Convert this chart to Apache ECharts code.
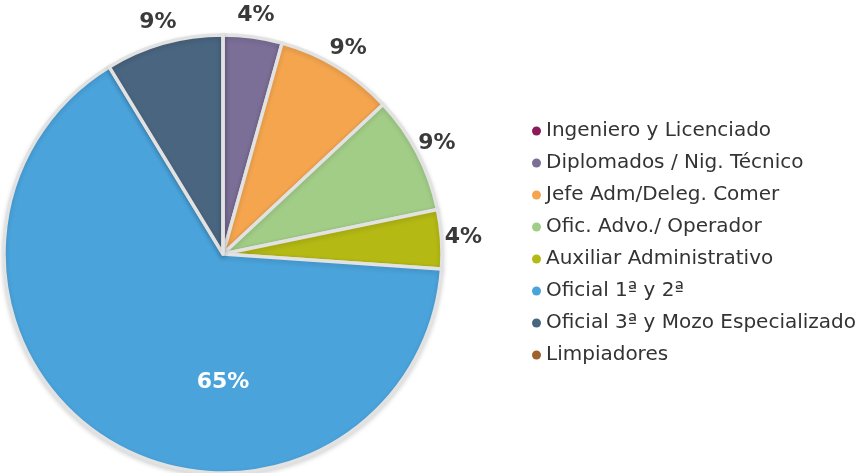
<!DOCTYPE html>
<html>
<head>
<meta charset="utf-8">
<script src="https://cdn.jsdelivr.net/npm/echarts@6/dist/echarts.min.js"></script>
<style>
  html, body { margin: 0; padding: 0; background: #fff; }
  #chart { width: 866px; height: 473px; }
</style>
</head>
<body>
<div id="chart"></div>
<script>
// categorias y valores (personas por categoria)
var categories = ['Ingeniero y Licenciado', 'Diplomados / Nig. Técnico', 'Jefe Adm/Deleg. Comer',
  'Ofic. Advo./ Operador', 'Auxiliar Administrativo', 'Oficial 1ª y 2ª',
  'Oficial 3ª y Mozo Especializado', 'Limpiadores'];
var values = [0, 1, 2, 2, 1, 15, 2, 0];
var colors = ['#8b1a5a', '#7b6f98', '#f4a54e', '#a2cd87', '#b4b914', '#4aa3db', '#4a6580', '#a0622d'];

var total = values.reduce(function (a, b) { return a + b; }, 0);
var bigIndex = values.indexOf(Math.max.apply(null, values));

function pct(v) { return Math.round(v / total * 100) + '%'; }

var myChart = echarts.init(document.getElementById('chart'));

var mainData = categories.map(function (name, i) {
  var item = { name: name, value: values[i], itemStyle: { color: colors[i] } };
  if (i === bigIndex) {
    item.label = {
      show: true,
      position: 'center',
      formatter: function (p) { return '{a|' + pct(p.value) + '}'; },
      rich: {
        a: {
          color: '#fff',
          fontFamily: 'DejaVu Sans',
          fontWeight: 'bold',
          fontSize: 22,
          padding: [256, 0, 0, 0]
        }
      }
    };
  }
  return item;
});

// anillo invisible solo para colocar las etiquetas exteriores
var ringData = categories.map(function (name, i) {
  return {
    name: name,
    value: values[i],
    label: {
      show: values[i] > 0 && i !== bigIndex,
      formatter: function (p) { return pct(p.value); }
    }
  };
});

myChart.setOption({
  backgroundColor: '#fff',
  animation: false,
  legend: {
    orient: 'vertical',
    left: 527,
    top: 116,
    icon: 'circle',
    itemWidth: 9,
    itemHeight: 9,
    itemGap: 12,
    data: categories,
    itemStyle: { borderWidth: 0, shadowBlur: 0 },
    textStyle: {
      fontFamily: 'DejaVu Sans',
      fontSize: 20,
      color: '#333'
    }
  },
  series: [{
    type: 'pie',
    center: [223, 254],
    radius: [0, 219],
    startAngle: 90,
    clockwise: true,
    silent: true,
    label: { show: false },
    labelLine: { show: false },
    itemStyle: {
      borderColor: '#e2e2e2',
      borderWidth: 3.5,
      shadowBlur: 5,
      shadowOffsetY: 2,
      shadowColor: 'rgba(0,0,0,0.14)'
    },
    data: mainData
  }, {
    type: 'pie',
    center: [223, 254],
    radius: [219, 257],
    startAngle: 90,
    clockwise: true,
    silent: true,
    itemStyle: { color: 'rgba(0,0,0,0)' },
    label: {
      position: 'inside',
      color: '#3a3a3a',
      fontFamily: 'DejaVu Sans',
      fontWeight: 'bold',
      fontSize: 22
    },
    labelLine: { show: false },
    data: ringData
  }]
});
</script>
</body>
</html>
